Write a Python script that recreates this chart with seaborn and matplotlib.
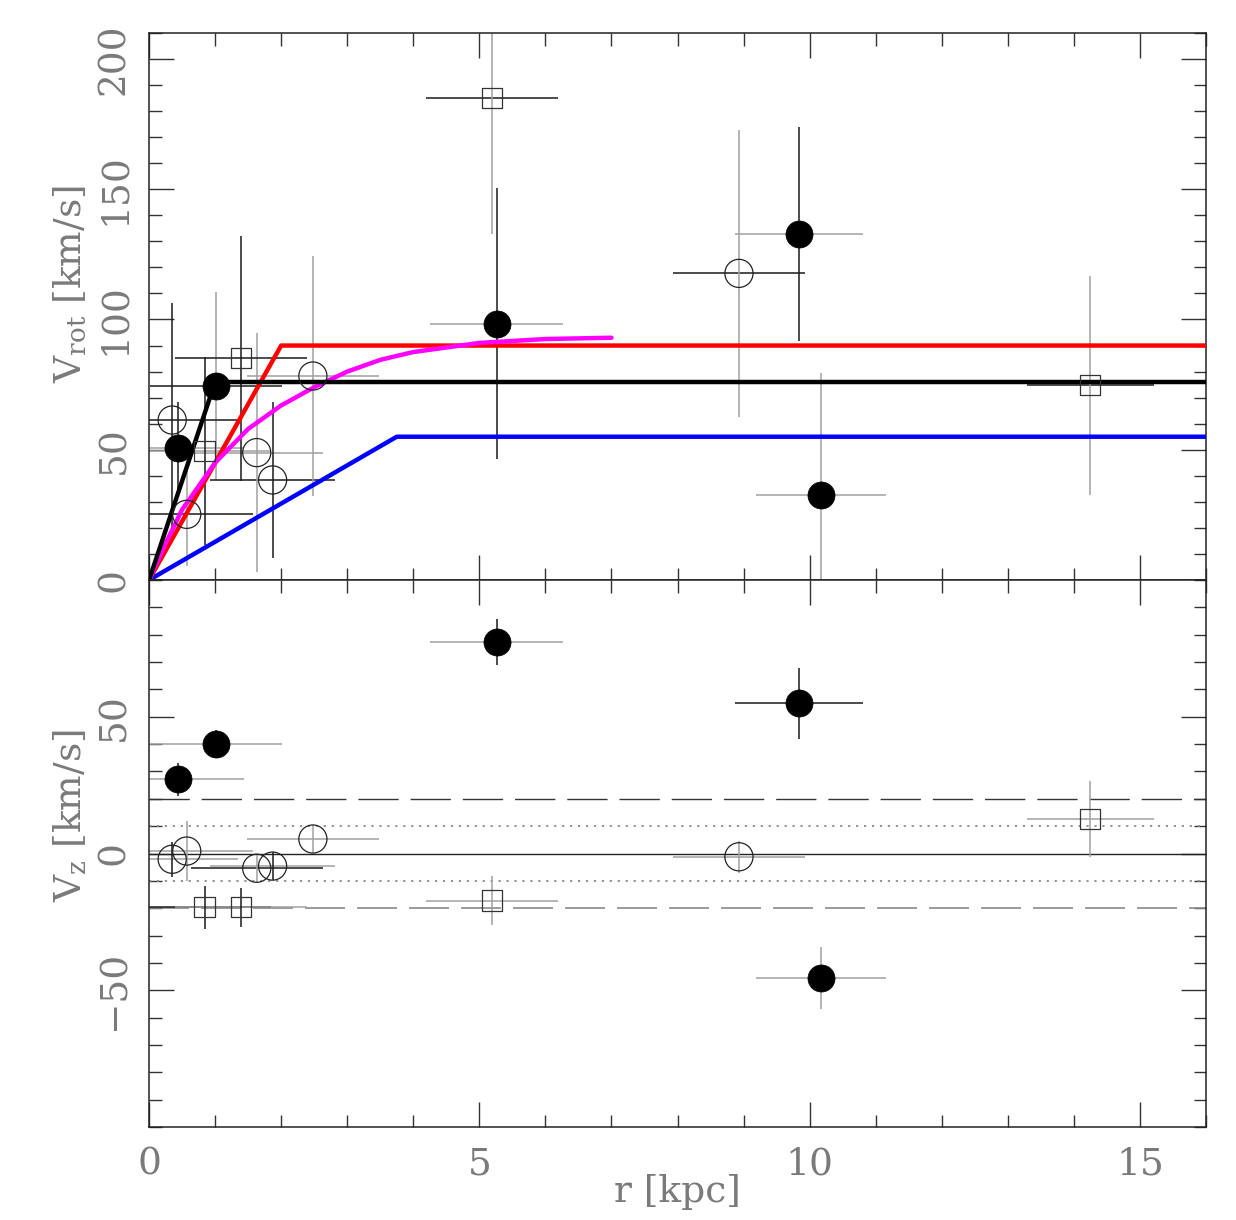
import numpy as np
import matplotlib
matplotlib.use('Agg')
import matplotlib.pyplot as plt
import seaborn as sns
from matplotlib.ticker import MultipleLocator

# ---- data ----
# filled circles
r_fc = np.array([0.44, 1.01, 5.26, 9.84, 10.17])
rerr_fc = np.array([1.0, 1.0, 1.0, 0.97, 0.98])
vrot_fc = np.array([50.5, 74.5, 98.3, 132.8, 32.6])
vrot_fc_err = np.array([18, 36, 52, 41, 47])
vz_fc = np.array([27.2, 40.0, 77.3, 54.9, -45.4])
vz_fc_err = np.array([6, 5, 8.5, 13, 11.3])

# open circles
r_oc = np.array([0.35, 0.57, 1.63, 1.87, 2.48, 8.93])
rerr_oc = np.array([1.0, 1.0, 1.0, 0.95, 1.0, 1.0])
vrot_oc = np.array([61.4, 25.2, 48.9, 38.4, 78.3, 117.7])
vrot_oc_err = np.array([45, 20, 46, 30, 46, 55])
vz_oc = np.array([-2.1, 0.9, -5.4, -4.6, 5.3, -1.2])
vz_oc_err = np.array([6.4, 11, 5, 5, 5, 5.8])

# open squares
r_sq = np.array([0.84, 1.39, 5.19, 14.25])
rerr_sq = np.array([1.0, 1.0, 1.0, 0.96])
vrot_sq = np.array([49.5, 85.1, 185, 74.7])
vrot_sq_err = np.array([36, 47, 52, 42])
vz_sq = np.array([-19.7, -19.7, -17.2, 12.6])
vz_sq_err = np.array([7.9, 7, 8.8, 14])

# model rotation curves
r_red = [0, 2, 16]
v_red = [0, 90, 90]
r_black = [0, 1, 16]
v_black = [0, 76, 76]
r_blue = [0, 3.75, 16]
v_blue = [0, 55, 55]
r_mag = [0, 0.25, 0.5, 1.0, 1.5, 2.0, 2.5, 3.0, 3.5, 4.0, 5.0, 6.0, 7.0]
v_mag = [0, 14, 27, 45, 58, 67, 74, 80, 84.5, 87.5, 91, 92.5, 93]

# reference levels in the V_z panel
vz_zero = 0
vz_dot = [10, -10]
vz_dash = [20, -20]

# error bar colours (k = dark, g = grey), per point
K, G = '#1a1a1a', '#a0a0a0'
top_fc_x, top_fc_y = [G, K, G, G, G], [K, G, K, K, G]
top_oc_x, top_oc_y = [K, K, G, K, G, K], [K, G, G, K, G, G]
top_sq_x, top_sq_y = [G, K, K, K], [K, K, G, G]
bot_fc_x, bot_fc_y = [G, G, G, K, G], [K, K, K, K, G]
bot_oc_x, bot_oc_y = [G, G, K, G, G, G], [K, G, G, K, G, G]
bot_sq_x, bot_sq_y = [K, G, G, G], [K, K, G, G]

sns.set_style('ticks')
plt.rcParams['font.family'] = ['DejaVu Serif']
plt.rcParams['mathtext.fontset'] = 'dejavuserif'

TXT = '#7a7a7a'
FS = 27

fig = plt.figure(figsize=(12.36, 12.2), dpi=100)
ax1 = fig.add_axes([0.1206, 0.5246, 0.8551, 0.4484])
ax2 = fig.add_axes([0.1206, 0.0762, 0.8551, 0.4484], sharex=ax1)


def errs(ax, r, rerr, v, verr, xc, yc):
    ax.hlines(v, r - rerr, r + rerr, colors=xc, lw=1.1, zorder=2)
    ax.vlines(r, v - verr, v + verr, colors=yc, lw=1.1, zorder=2)


def markers(ax, vfc, voc, vsq):
    sns.scatterplot(x=r_fc, y=vfc, ax=ax, marker='o', s=380, color='black',
                    edgecolor='black', linewidth=0.5, zorder=5)
    sns.scatterplot(x=r_oc, y=voc, ax=ax, marker='o', s=410, facecolors='none',
                    edgecolor='#222222', linewidth=0.9, zorder=4)
    sns.scatterplot(x=r_sq, y=vsq, ax=ax, marker='s', s=210, facecolors='none',
                    edgecolor='#333333', linewidth=0.9, zorder=4)


# ---- top panel: rotation velocity ----
errs(ax1, r_fc, rerr_fc, vrot_fc, vrot_fc_err, top_fc_x, top_fc_y)
errs(ax1, r_oc, rerr_oc, vrot_oc, vrot_oc_err, top_oc_x, top_oc_y)
errs(ax1, r_sq, rerr_sq, vrot_sq, vrot_sq_err, top_sq_x, top_sq_y)

sns.lineplot(x=r_blue, y=v_blue, ax=ax1, color='#0000ff', linewidth=3.2, zorder=3)
sns.lineplot(x=r_red, y=v_red, ax=ax1, color='#ff0000', linewidth=3.2, zorder=3)
sns.lineplot(x=r_mag, y=v_mag, ax=ax1, color='#ff00ff', linewidth=3.2, zorder=3)
sns.lineplot(x=r_black, y=v_black, ax=ax1, color='black', linewidth=3.2, zorder=3)

markers(ax1, vrot_fc, vrot_oc, vrot_sq)

ax1.set_ylim(0, 210)
ax1.set_yticks([0, 50, 100, 150, 200])
ax1.set_yticklabels(['0', '50', '100', '150', '200'], rotation=90, va='center')
ax1.yaxis.set_minor_locator(MultipleLocator(10))
ax1.set_ylabel(r'V$_{\rm rot}$ [km/s]', fontsize=FS, color=TXT)
ax1.yaxis.set_label_coords(-0.057, 0.54)
ax1.tick_params(axis='x', labelbottom=False)

# ---- bottom panel: vertical velocity ----
ax2.axhline(vz_zero, color='#222222', lw=1.0, zorder=1)
for lv in vz_dot:
    ax2.axhline(lv, color='#8a8a8a', lw=1.3, ls=(0, (1.2, 3.2)), zorder=1)
ax2.axhline(vz_dash[0], color='#333333', lw=1.0, ls=(0, (29, 8.6)), zorder=1)
ax2.axhline(vz_dash[1], color='#8a8a8a', lw=1.2, ls=(0, (24, 7.2)), zorder=1)

errs(ax2, r_fc, rerr_fc, vz_fc, vz_fc_err, bot_fc_x, bot_fc_y)
errs(ax2, r_oc, rerr_oc, vz_oc, vz_oc_err, bot_oc_x, bot_oc_y)
errs(ax2, r_sq, rerr_sq, vz_sq, vz_sq_err, bot_sq_x, bot_sq_y)

markers(ax2, vz_fc, vz_oc, vz_sq)

ax2.set_ylim(-100, 100)
ax2.set_yticks([-50, 0, 50])
ax2.set_yticklabels(['\u221250', '0', '50'], rotation=90, va='center')
ax2.yaxis.set_minor_locator(MultipleLocator(10))
ax2.set_ylabel(r'V$_{\rm z}$ [km/s]', fontsize=FS, color=TXT)
ax2.yaxis.set_label_coords(-0.057, 0.57)

ax2.set_xlim(0, 16)
ax2.xaxis.set_major_locator(MultipleLocator(5))
ax2.xaxis.set_minor_locator(MultipleLocator(1))
ax2.set_xlabel('r [kpc]', fontsize=FS, color=TXT)
ax2.xaxis.set_label_coords(0.5, -0.085)

for ax in (ax1, ax2):
    ax.tick_params(which='both', direction='in', top=True, right=True,
                   color='#333333', width=1.0, labelcolor=TXT, labelsize=FS)
    ax.tick_params(which='major', length=18)
    ax.tick_params(which='minor', length=9)
    ax.tick_params(axis='y', pad=12)
    ax.tick_params(axis='x', pad=14)
    for s in ax.spines.values():
        s.set_color('#222222')
        s.set_linewidth(1.1)
    if ax.get_legend() is not None:
        ax.get_legend().remove()

fig.savefig('out.png', dpi=100)
